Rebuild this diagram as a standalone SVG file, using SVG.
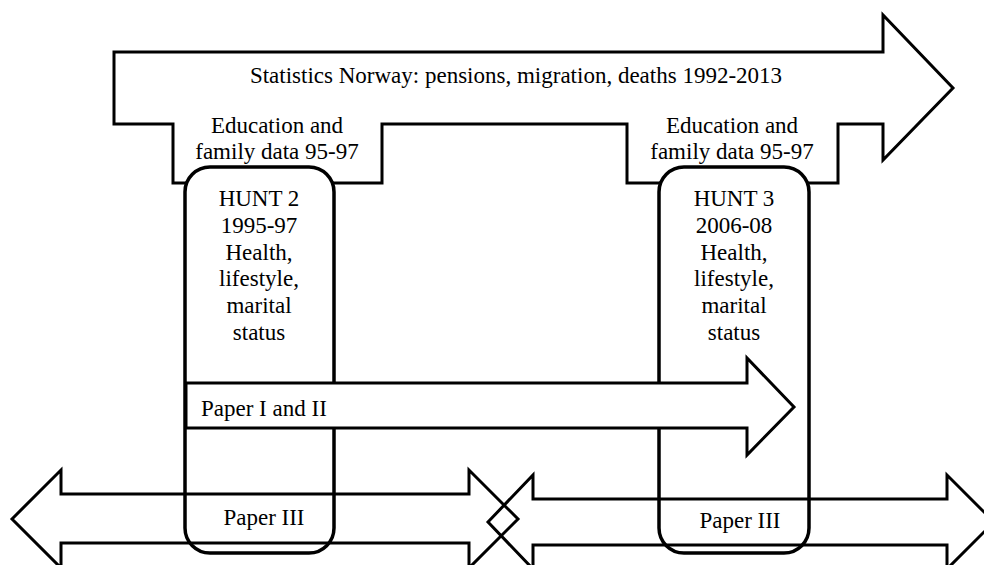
<svg xmlns="http://www.w3.org/2000/svg" width="984" height="565" viewBox="0 0 984 565">
<style>
  .shape { fill: #ffffff; stroke: #000000; stroke-width: 3; stroke-linejoin: miter; }
  .open { fill: none; stroke: #000000; stroke-width: 3; stroke-linejoin: miter; }
  .box { fill: #ffffff; stroke: #000000; stroke-width: 3.5; }
  text { font-family: "Liberation Serif", "Times New Roman", serif; font-size: 23px; fill: #000000; }
  .c { text-anchor: middle; }
</style>
<rect x="0" y="0" width="984" height="565" fill="#ffffff"/>

<g id="statistics-norway">
  <path class="shape" d="M114,52 L883,52 L883,15 L953,88 L883,160 L883,124 L838,124 L838,183 L627,183 L627,124 L382,124 L382,183 L173,183 L173,124 L114,124 Z"/>
  <text x="516" y="83" class="c">Statistics Norway: pensions, migration, deaths 1992-2013</text>
  <text x="277" y="133" class="c">Education and</text>
  <text x="277" y="159" class="c">family data 95-97</text>
  <text x="732" y="133" class="c">Education and</text>
  <text x="732" y="159" class="c">family data 95-97</text>
</g>

<g id="hunt2">
  <rect class="box" x="185" y="167" width="149" height="386" rx="25" ry="25"/>
  <text x="259" y="206" class="c">HUNT 2</text>
  <text x="259" y="233" class="c">1995-97</text>
  <text x="259" y="260" class="c">Health,</text>
  <text x="259" y="286" class="c">lifestyle,</text>
  <text x="259" y="313" class="c">marital</text>
  <text x="259" y="340" class="c">status</text>
</g>

<g id="hunt3">
  <rect class="box" x="659" y="167" width="150" height="386" rx="25" ry="25"/>
  <text x="734" y="206" class="c">HUNT 3</text>
  <text x="734" y="233" class="c">2006-08</text>
  <text x="734" y="260" class="c">Health,</text>
  <text x="734" y="286" class="c">lifestyle,</text>
  <text x="734" y="313" class="c">marital</text>
  <text x="734" y="340" class="c">status</text>
</g>

<g id="paper-1-2">
  <path class="shape" d="M186,383 L747,383 L747,358 L794,407 L747,455 L747,428 L186,428 Z"/>
  <text x="201" y="416">Paper I and II</text>
</g>

<g id="paper-3-left">
  <path class="open" d="M12,519 L61,470 L61,494 L469,494 L469,470 L518,519 L469,568 L469,543 L61,543 L61,568 Z"/>
  <text x="264" y="525" class="c">Paper III</text>
</g>

<g id="paper-3-right">
  <path class="open" d="M488,522 L533,475 L533,499 L947,499 L947,475 L994,522 L947,569 L947,545 L533,545 L533,569 Z"/>
  <text x="740" y="528" class="c">Paper III</text>
</g>
</svg>
